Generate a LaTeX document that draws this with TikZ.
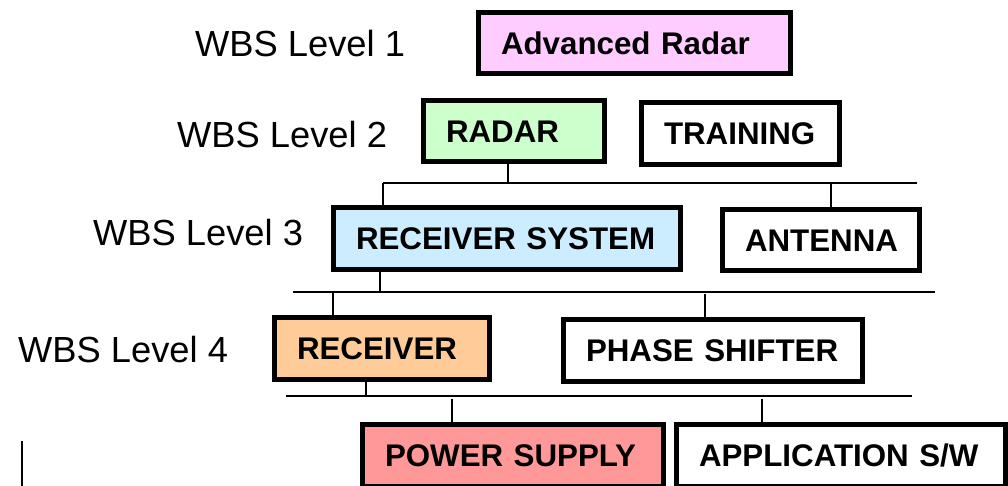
\documentclass[tikz,border=0pt]{standalone}
\usepackage{fontspec}
\setmainfont{Liberation Sans}
\definecolor{lvlpink}{HTML}{FFCCFF}
\definecolor{lvlgreen}{HTML}{CCFFCC}
\definecolor{lvlblue}{HTML}{CCECFF}
\definecolor{lvlorange}{HTML}{FFCC99}
\definecolor{lvlred}{HTML}{FF9999}
\newcommand{\boxfont}{\fontsize{31.3}{36}\selectfont\bfseries}
\newcommand{\lvlfont}{\fontsize{36.3}{42}\selectfont}
\tikzset{
  wbsbox/.style={draw, line width=5pt, rectangle, anchor=north west,
    inner xsep=22.5pt, inner ysep=0pt, align=left, font=\boxfont,
    text height=22.4pt, text depth=0pt},
  lvl/.style={anchor=base west, inner sep=0pt, font=\lvlfont},
  wire/.style={line width=2pt}
}
\begin{document}
\begin{tikzpicture}[x=1pt, y=-1pt]
\clip (0,0) rectangle (1008,485);

% level labels
\node[lvl] (l1) at (195,56) {WBS Level 1};
\node[lvl] (l2) at (177,147) {WBS Level 2};
\node[lvl] (l3) at (93,245) {WBS Level 3};
\node[lvl] (l4) at (18,362) {WBS Level 4};

% work breakdown connectors
\coordinate (b1l) at (383,183);
\coordinate (b1r) at (917,183);
\coordinate (r1) at (508,183);
\coordinate (a1) at (831,183);
\coordinate (b2l) at (293,292);
\coordinate (b2r) at (935,292);
\coordinate (s2) at (380,292);
\coordinate (c2) at (333,292);
\coordinate (p2) at (705,294);
\coordinate (b3l) at (286,396);
\coordinate (b3r) at (912,396);
\coordinate (r3) at (366,396);
\coordinate (w3) at (452,399);
\coordinate (x3) at (762,399);
\coordinate (mk1) at (22,441);
\coordinate (mk2) at (22,490);

% boxes (anchored at the outer corner of the border)
\node[wbsbox, fill=lvlpink, text width=267pt, minimum height=61pt] (adv) at (476,10) {Advanced~Radar};
\node[wbsbox, fill=lvlgreen, text width=136pt, minimum height=61pt] (radar) at (421,98) {RADAR};
\node[wbsbox, fill=white, text width=153pt, minimum height=62pt] (training) at (639,100) {TRAINING};
\node[wbsbox, fill=lvlblue, text width=302pt, minimum height=62pt] (rsys) at (331,205) {RECEIVER~SYSTEM};
\node[wbsbox, fill=white, text width=152pt, minimum height=61pt] (antenna) at (720,207) {ANTENNA};
\node[wbsbox, fill=lvlorange, text width=170pt, minimum height=62pt] (receiver) at (272,315) {RECEIVER};
\node[wbsbox, fill=white, text width=254pt, minimum height=62pt] (phase) at (561,317) {PHASE~SHIFTER};
\node[wbsbox, fill=lvlred, text width=256pt, minimum height=62pt] (power) at (360,422) {POWER~SUPPLY};
\node[wbsbox, fill=white, text width=284pt, minimum height=62pt] (app) at (674,422) {APPLICATION~S/W};

% level 2 -> level 3
\draw[wire] (r1 |- radar.south) -- (r1);
\draw[wire] (b1l) -- (b1r);
\draw[wire] (b1l) -- (b1l |- rsys.north);
\draw[wire] (a1) -- (a1 |- antenna.north);

% level 3 -> level 4
\draw[wire] (s2 |- rsys.south) -- (s2);
\draw[wire] (b2l) -- (b2r);
\draw[wire] (c2) -- (c2 |- receiver.north);
\draw[wire] (p2) -- (p2 |- phase.north);

% level 4 -> level 5
\draw[wire] (r3 |- receiver.south) -- (r3);
\draw[wire] (b3l) -- (b3r);
\draw[wire] (w3) -- (w3 |- power.north);
\draw[wire] (x3) -- (x3 |- app.north);

% margin mark
\draw[wire] (mk1) -- (mk2);
\end{tikzpicture}
\end{document}
